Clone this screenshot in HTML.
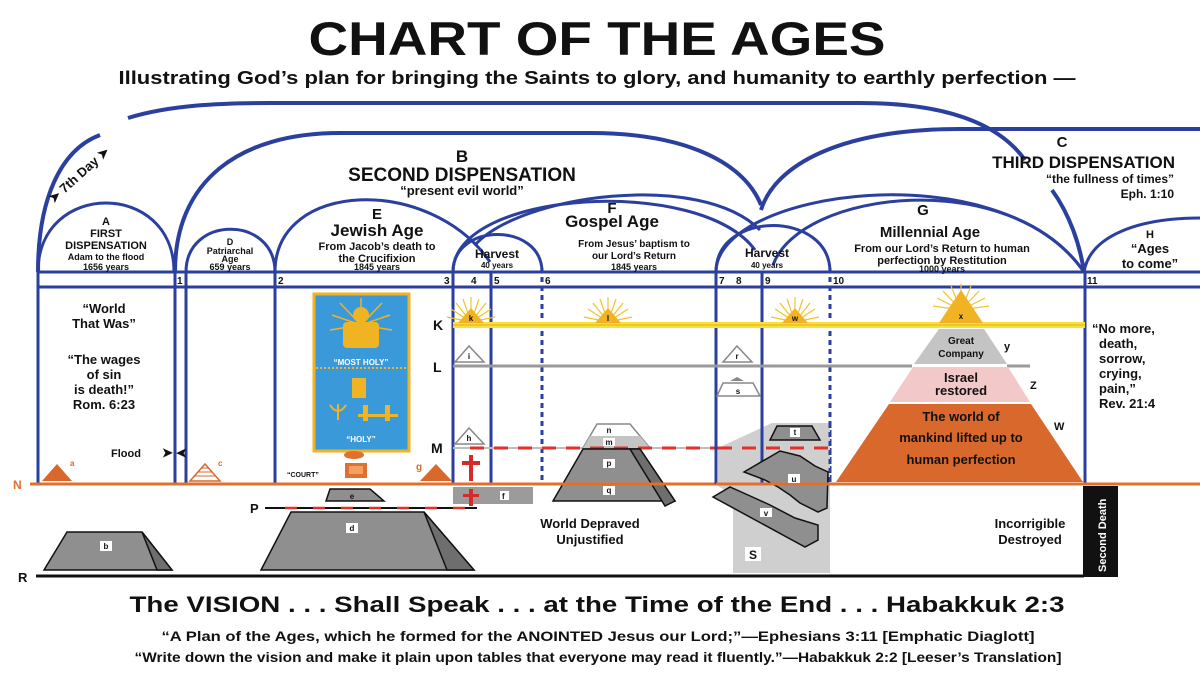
<!DOCTYPE html>
<html><head><meta charset="utf-8"><style>
html,body{margin:0;padding:0;background:#fff;}
svg{display:block;}
text{font-family:"Liberation Sans",Arial,sans-serif;font-weight:bold;fill:#111;}
</style></head><body>
<svg width="1200" height="683" viewBox="0 0 1200 683" xmlns="http://www.w3.org/2000/svg">
<text x="597" y="55" font-size="47" text-anchor="middle" textLength="577" lengthAdjust="spacingAndGlyphs">CHART OF THE AGES</text>
<text x="597" y="84" font-size="18" text-anchor="middle" textLength="957" lengthAdjust="spacingAndGlyphs">Illustrating God’s plan for bringing the Saints to glory, and humanity to earthly perfection —</text>

<g fill="none" stroke="#2b3f9e" stroke-width="4">
<path d="M38,272 C38,200 60,150 100,135 M128,118 C170,105 220,103 270,103 L860,103 C950,103 1000,125 1025,160 M1052,190 C1070,215 1080,245 1084,272"/>
<path d="M960,129 L1200,129"/>
<path d="M175,272 C175,180 240,133 340,133 L590,133 C690,133 745,165 761,205"/>
<path d="M761,210 C775,165 840,129 960,129"/>
</g>
<g fill="none" stroke="#2b3f9e" stroke-width="3">
<path d="M38,272 C38,180 174,180 174,272"/>
<path d="M186,272 C186,215 275,215 275,272"/>
<path d="M275,272 C275,180 430,175 490,262"/>
<path d="M453,272 C453,222 542,222 542,272"/>
<path d="M453,272 C453,190 700,175 755,250"/>
<path d="M475,245 C520,195 700,170 760,230"/>
<path d="M716,272 C716,210 830,210 830,272"/>
<path d="M716,272 C716,190 1000,150 1084,272"/>
<path d="M773,265 C800,190 1010,165 1084,272"/>
<path d="M1084,272 C1090,235 1140,218 1200,218"/>
</g>
<g stroke="#2b3f9e" stroke-width="3">
<line x1="37" y1="272" x2="1200" y2="272"/>
<line x1="37" y1="287" x2="1200" y2="287"/>
<line x1="38" y1="272" x2="38" y2="484"/>
<line x1="175" y1="272" x2="175" y2="484"/>
<line x1="186" y1="272" x2="186" y2="484"/>
<line x1="275" y1="272" x2="275" y2="484"/>
<line x1="453" y1="272" x2="453" y2="484"/>
<line x1="491" y1="272" x2="491" y2="484"/>
<line x1="716" y1="272" x2="716" y2="484"/>
<line x1="762" y1="272" x2="762" y2="484"/>
<line x1="1085" y1="272" x2="1085" y2="484"/>
</g>
<g stroke="#2b3f9e" stroke-width="3" stroke-dasharray="5,4">
<line x1="542" y1="268" x2="542" y2="484"/>
<line x1="830" y1="268" x2="830" y2="484"/>
</g>
<g font-size="10">
<text x="177" y="284">1</text><text x="278" y="284">2</text><text x="444" y="284">3</text>
<text x="471" y="284">4</text><text x="494" y="284">5</text><text x="545" y="284">6</text>
<text x="719" y="284">7</text><text x="736" y="284">8</text><text x="765" y="284">9</text>
<text x="833" y="284">10</text><text x="1087" y="284">11</text>
</g>
<g text-anchor="middle">
<text x="106" y="225" font-size="11">A</text>
<text x="106" y="237" font-size="11">FIRST</text>
<text x="106" y="249" font-size="11">DISPENSATION</text>
<text x="106" y="260" font-size="9" font-weight="normal">Adam to the flood</text>
<text x="106" y="270" font-size="9" font-weight="normal">1656 years</text>
<text x="230" y="245" font-size="9">D</text>
<text x="230" y="254" font-size="9">Patriarchal</text>
<text x="230" y="262" font-size="9">Age</text>
<text x="230" y="270" font-size="9" font-weight="normal">659 years</text>
<text x="377" y="219" font-size="15">E</text>
<text x="377" y="236" font-size="17">Jewish Age</text>
<text x="377" y="250" font-size="11" font-weight="normal">From Jacob’s death to</text>
<text x="377" y="262" font-size="11" font-weight="normal">the Crucifixion</text>
<text x="377" y="270" font-size="9" font-weight="normal">1845 years</text>
<text x="462" y="162" font-size="17">B</text>
<text x="462" y="181" font-size="19">SECOND DISPENSATION</text>
<text x="462" y="195" font-size="13" font-weight="normal">“present evil world”</text>
<text x="497" y="258" font-size="12">Harvest</text>
<text x="497" y="268" font-size="8" font-weight="normal">40 years</text>
<text x="612" y="213" font-size="15">F</text>
<text x="612" y="227" font-size="17">Gospel Age</text>
<text x="634" y="247" font-size="10" font-weight="normal">From Jesus’ baptism to</text>
<text x="634" y="259" font-size="10" font-weight="normal">our Lord’s Return</text>
<text x="634" y="270" font-size="9" font-weight="normal">1845 years</text>
<text x="767" y="257" font-size="12">Harvest</text>
<text x="767" y="268" font-size="8" font-weight="normal">40 years</text>
<text x="923" y="215" font-size="15">G</text>
<text x="930" y="237" font-size="15">Millennial Age</text>
<text x="942" y="252" font-size="11" font-weight="normal">From our Lord’s Return to human</text>
<text x="942" y="264" font-size="11" font-weight="normal">perfection by Restitution</text>
<text x="942" y="272" font-size="9" font-weight="normal">1000 years</text>
<text x="1062" y="147" font-size="15">C</text>
<text x="1150" y="238" font-size="11">H</text>
<text x="1150" y="253" font-size="13">“Ages</text>
<text x="1150" y="268" font-size="13">to come”</text>
</g>
<text x="1175" y="168" font-size="17" text-anchor="end">THIRD DISPENSATION</text>
<text x="1174" y="183" font-size="12" font-weight="normal" text-anchor="end">“the fullness of times”</text>
<text x="1174" y="198" font-size="12" font-weight="normal" text-anchor="end">Eph. 1:10</text>
<text x="82" y="178" font-size="13" transform="rotate(-42 82 178)" text-anchor="middle">➤ 7th Day ➤</text>
<line x1="453" y1="325" x2="1085" y2="325" stroke="#f5e23a" stroke-width="6"/>
<line x1="453" y1="325" x2="1085" y2="325" stroke="#f2c428" stroke-width="2"/>
<line x1="453" y1="366" x2="912" y2="366" stroke="#9a9a9a" stroke-width="3"/>
<line x1="1007" y1="366" x2="1030" y2="366" stroke="#9a9a9a" stroke-width="3"/>
<line x1="453" y1="448" x2="830" y2="448" stroke="#bdbdbd" stroke-width="2"/>
<line x1="470" y1="448" x2="830" y2="448" stroke="#e0322b" stroke-width="3" stroke-dasharray="14,10"/>
<g font-size="14"><text x="433" y="330">K</text><text x="433" y="372">L</text><text x="431" y="453">M</text></g>
<line x1="30" y1="484" x2="1200" y2="484" stroke="#e07030" stroke-width="3"/>
<text x="13" y="489" font-size="12" style="fill:#e07030">N</text>
<line x1="36" y1="576" x2="1084" y2="576" stroke="#111" stroke-width="3"/>
<text x="18" y="582" font-size="13">R</text>
<g text-anchor="middle" font-size="13">
<text x="104" y="313">“World</text><text x="104" y="328">That Was”</text>
<text x="104" y="364">“The wages</text><text x="104" y="379">of sin</text><text x="104" y="394">is death!”</text><text x="104" y="409">Rom. 6:23</text>
</g>
<text x="111" y="457" font-size="11">Flood</text>
<text x="162" y="457" font-size="13">➤</text>
<text x="199" y="457" font-size="13" transform="rotate(180 193 453)">➤</text>
<polygon points="42,481 57,464 72,481" fill="#d9682c"/><text x="70" y="466" font-size="8" style="fill:#d9682c">a</text>
<polygon points="190,481 205,464 220,481" fill="none" stroke="#d9682c" stroke-width="1.5"/>
<g stroke="#d9682c" stroke-width="1"><line x1="195" y1="476" x2="215" y2="476"/><line x1="198" y1="472" x2="212" y2="472"/><line x1="201" y1="468" x2="209" y2="468"/></g>
<text x="218" y="466" font-size="8" style="fill:#d9682c">c</text>
<rect x="314" y="294" width="95" height="157" fill="#3a9ad9" stroke="#f0b323" stroke-width="3"/>
<line x1="316" y1="368" x2="407" y2="368" stroke="#f0b323" stroke-width="2" stroke-dasharray="2,2"/>
<g stroke="#f0b323" stroke-width="1.5">
<line x1="361" y1="325" x2="361" y2="298"/><line x1="361" y1="325" x2="340" y2="303"/><line x1="361" y1="325" x2="382" y2="303"/>
<line x1="361" y1="325" x2="332" y2="315"/><line x1="361" y1="325" x2="390" y2="315"/><line x1="361" y1="325" x2="330" y2="330"/><line x1="361" y1="325" x2="392" y2="330"/>
</g>
<rect x="343" y="322" width="36" height="26" rx="4" fill="#f0b323"/>
<circle cx="361" cy="315" r="8" fill="#f0b323"/>
<rect x="352" y="378" width="14" height="20" fill="#f0b323"/>
<path d="M330,405 q8,12 16,0 M338,404 v16" stroke="#f0b323" stroke-width="2" fill="none"/>
<rect x="358" y="414" width="40" height="3" fill="#f0b323"/><rect x="363" y="405" width="5" height="16" fill="#f0b323"/><rect x="385" y="405" width="5" height="16" fill="#f0b323"/>
<text x="361" y="365" font-size="8" text-anchor="middle" style="fill:#fff">“MOST HOLY”</text>
<text x="361" y="442" font-size="8" text-anchor="middle" style="fill:#fff">“HOLY”</text>
<ellipse cx="354" cy="455" rx="10" ry="4" fill="#e07030"/>
<rect x="345" y="463" width="22" height="15" fill="#e07030"/><rect x="349" y="466" width="14" height="8" fill="#f4a060"/>
<text x="287" y="477" font-size="7">“COURT”</text>
<polygon points="420,481 436,464 452,481" fill="#d9682c"/><text x="416" y="470" font-size="10" style="fill:#d9682c">g</text>
<g fill="#d42a2a"><rect x="469" y="455" width="4" height="26"/><rect x="462" y="461" width="18" height="4"/></g>
<rect x="453" y="487" width="80" height="17" fill="#8a8a8a" opacity="0.85"/>
<rect x="500" y="491" width="9" height="9" fill="#fff"/><text x="502" y="499" font-size="8">f</text>
<g fill="#d42a2a"><rect x="469" y="489" width="4" height="17"/><rect x="463" y="494" width="16" height="3"/></g>
<polygon points="330,489 370,489 384,501 326,501" fill="#8f8f8f" stroke="#111" stroke-width="1.5"/>
<text x="352" y="499" font-size="8" text-anchor="middle">e</text>
<line x1="265" y1="508" x2="477" y2="508" stroke="#111" stroke-width="2"/>
<line x1="285" y1="508" x2="477" y2="508" stroke="#e0322b" stroke-width="2.5" stroke-dasharray="12,16"/>
<text x="250" y="513" font-size="13">P</text>
<polygon points="291,512 424,512 474,570 261,570" fill="#8f8f8f" stroke="#111" stroke-width="1.5"/>
<polygon points="424,512 474,570 447,570" fill="#6e6e6e" stroke="#111" stroke-width="1.5"/>
<rect x="346" y="523" width="12" height="10" fill="#fff"/><text x="352" y="531" font-size="8" text-anchor="middle">d</text>
<polygon points="67,532 142,532 172,570 44,570" fill="#8f8f8f" stroke="#111" stroke-width="1.5"/>
<polygon points="142,532 172,570 157,570" fill="#6e6e6e" stroke="#111" stroke-width="1.5"/>
<rect x="100" y="541" width="12" height="10" fill="#fff"/><text x="106" y="549" font-size="8" text-anchor="middle">b</text>
<g stroke="#f2c428" stroke-width="1.2">
<g transform="translate(471,0)"><path d="M0,322 L0,297 M0,322 L-8,299 M0,322 L8,299 M0,322 L-15,303 M0,322 L15,303 M0,322 L-20,309 M0,322 L20,309 M0,322 L-24,317 M0,322 L24,317"/></g>
<g transform="translate(608,0)"><path d="M0,322 L0,297 M0,322 L-8,299 M0,322 L8,299 M0,322 L-15,303 M0,322 L15,303 M0,322 L-20,309 M0,322 L20,309 M0,322 L-24,317 M0,322 L24,317"/></g>
<g transform="translate(795,0)"><path d="M0,322 L0,297 M0,322 L-8,299 M0,322 L8,299 M0,322 L-15,303 M0,322 L15,303 M0,322 L-20,309 M0,322 L20,309 M0,322 L-24,317 M0,322 L24,317"/></g>
<g transform="translate(961,0)"><path d="M0,310 L0,284 M0,310 L-10,286 M0,310 L10,286 M0,310 L-18,291 M0,310 L18,291 M0,310 L-24,298 M0,310 L24,298 M0,310 L-28,306 M0,310 L28,306"/></g>
</g>
<g fill="#f0b323">
<polygon points="471,308 458,323 484,323"/><polygon points="608,308 595,323 621,323"/><polygon points="795,308 782,323 808,323"/>
<polygon points="961,290 939,323 983,323"/>
</g>
<g font-size="8" text-anchor="middle"><text x="471" y="321">k</text><text x="608" y="321">l</text><text x="795" y="321">w</text><text x="961" y="319">x</text></g>
<g fill="#fff" stroke="#888" stroke-width="1.5">
<polygon points="469,346 455,362 484,362"/><polygon points="737,346 723,362 752,362"/>
<polygon points="469,428 455,444 484,444"/>
<polygon points="723,383 753,383 760,396 717,396"/>
</g>
<polygon points="737,377 730,381 744,381" fill="#888"/>
<g font-size="8" text-anchor="middle"><text x="469" y="359">i</text><text x="737" y="359">r</text><text x="469" y="441">h</text><text x="738" y="394">s</text></g>
<polygon points="597,424 630,424 650,448 583,448" fill="#fff" stroke="#888" stroke-width="1.5"/>
<polygon points="590,436 640,436 650,448 583,448" fill="#c4c4c4"/>
<line x1="470" y1="448" x2="830" y2="448" stroke="#e0322b" stroke-width="3" stroke-dasharray="14,10"/>
<polygon points="583,449 640,449 675,501 553,501" fill="#8f8f8f" stroke="#111" stroke-width="1.5"/>
<polygon points="640,449 675,501 665,506 630,449" fill="#6e6e6e" stroke="#111" stroke-width="1.5"/>
<line x1="545" y1="484" x2="680" y2="484" stroke="#e07030" stroke-width="3"/>
<g fill="#fff"><rect x="603" y="426" width="12" height="8"/><rect x="603" y="438" width="12" height="8"/><rect x="603" y="459" width="12" height="9"/><rect x="603" y="486" width="12" height="9"/></g>
<g font-size="8" text-anchor="middle"><text x="609" y="433">n</text><text x="609" y="445">m</text><text x="609" y="466">p</text><text x="609" y="493">q</text></g>
<polygon points="718,448 772,423 830,423 830,573 733,573 733,495 718,486" fill="#cfcfcf"/>
<line x1="716" y1="423" x2="716" y2="484" stroke="#2b3f9e" stroke-width="3"/>
<line x1="762" y1="423" x2="762" y2="484" stroke="#2b3f9e" stroke-width="3"/>
<line x1="830" y1="423" x2="830" y2="484" stroke="#2b3f9e" stroke-width="3" stroke-dasharray="5,4"/>
<line x1="718" y1="448" x2="830" y2="448" stroke="#e0322b" stroke-width="3" stroke-dasharray="14,10"/>
<polygon points="777,426 812,426 820,440 770,440" fill="#8f8f8f" stroke="#111" stroke-width="1.5"/>
<rect x="790" y="428" width="10" height="9" fill="#fff"/><text x="795" y="435" font-size="8" text-anchor="middle">t</text>
<polygon points="744,472 780,451 800,456 815,466 828,472 827,508 818,512 800,503 790,495 778,487 765,480" fill="#8f8f8f" stroke="#111" stroke-width="1.5"/>
<line x1="716" y1="484" x2="830" y2="484" stroke="#e07030" stroke-width="3"/>
<polygon points="713,497 730,487 748,495 770,505 795,518 818,525 818,540 805,547" fill="#8f8f8f" stroke="#111" stroke-width="1.5"/>
<rect x="788" y="474" width="12" height="9" fill="#fff"/><text x="794" y="482" font-size="8" text-anchor="middle">u</text>
<rect x="760" y="508" width="12" height="9" fill="#fff"/><text x="766" y="516" font-size="8" text-anchor="middle">v</text>
<rect x="745" y="547" width="16" height="14" fill="#fff"/><text x="753" y="559" font-size="12" text-anchor="middle">S</text>
<polygon points="838,482 849,465 860,482" fill="#d9682c"/>
<polygon points="939,329 984,329 1007,364 914,364" fill="#c4c4c4"/>
<polygon points="913,367 1008,367 1030,402 890,402" fill="#f2c8c8"/>
<polygon points="889,404 1031,404 1083,482 836,482" fill="#d9682c"/>
<g text-anchor="middle">
<text x="961" y="344" font-size="10">Great</text><text x="961" y="357" font-size="10">Company</text>
<text x="961" y="382" font-size="13">Israel</text><text x="961" y="395" font-size="13">restored</text>
<text x="961" y="421" font-size="13">The world of</text><text x="961" y="442" font-size="13">mankind lifted up to</text><text x="961" y="464" font-size="13">human perfection</text>
</g>
<text x="1004" y="350" font-size="11">y</text><text x="1030" y="389" font-size="11">Z</text><text x="1054" y="430" font-size="11">W</text>
<g font-size="13"><text x="1092" y="333">“No more,</text><text x="1099" y="348">death,</text><text x="1099" y="363">sorrow,</text><text x="1099" y="378">crying,</text><text x="1099" y="393">pain,”</text><text x="1099" y="408">Rev. 21:4</text></g>
<g text-anchor="middle" font-size="13"><text x="590" y="528">World Depraved</text><text x="590" y="544">Unjustified</text>
<text x="1030" y="528">Incorrigible</text><text x="1030" y="544">Destroyed</text></g>
<rect x="1083" y="486" width="35" height="91" fill="#111"/>
<text x="1106" y="572" font-size="11" transform="rotate(-90 1106 572)" style="fill:#fff" font-weight="normal">Second Death</text>
<text x="597" y="612" font-size="22" text-anchor="middle" textLength="935" lengthAdjust="spacingAndGlyphs">The VISION . . . Shall Speak . . . at the Time of the End . . . Habakkuk 2:3</text>
<text x="598" y="641" font-size="14" text-anchor="middle" textLength="873" lengthAdjust="spacingAndGlyphs">“A Plan of the Ages, which he formed for the ANOINTED Jesus our Lord;”—Ephesians 3:11 [Emphatic Diaglott]</text>
<text x="598" y="662" font-size="14" text-anchor="middle" textLength="927" lengthAdjust="spacingAndGlyphs">“Write down the vision and make it plain upon tables that everyone may read it fluently.”—Habakkuk 2:2 [Leeser’s Translation]</text>
</svg>
</body></html>
